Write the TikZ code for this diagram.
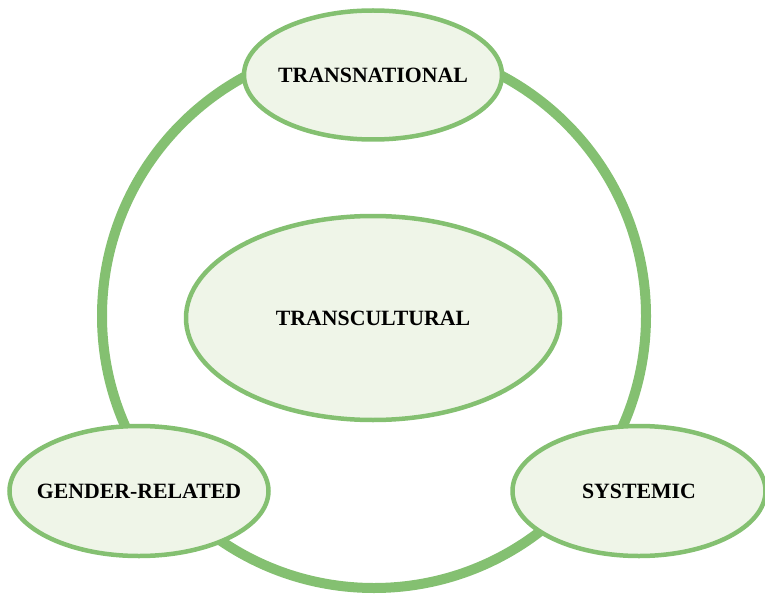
\documentclass[tikz,border=0pt]{standalone}
\usepackage{fontspec}
\setmainfont{Liberation Serif}
\usetikzlibrary{shapes.geometric}
\definecolor{ringgreen}{HTML}{84C071}
\definecolor{fillgreen}{HTML}{EFF5E8}
\newcommand{\zw}[1]{\makebox[0pt]{#1}}
\tikzset{
  bubble/.style={ellipse, draw=ringgreen, line width=4.5pt, fill=fillgreen, inner sep=0pt,
    font=\fontsize{21.8}{26}\selectfont\bfseries, text=black},
}
\begin{document}
\begin{tikzpicture}[x=1pt,y=-1pt]
\useasboundingbox (0,0) rectangle (765,596);
\node[circle, draw=ringgreen, line width=10pt, minimum size=544pt, inner sep=0pt] (ring) at (374,316) {};
\node[bubble, minimum width=374pt, minimum height=204pt] (tc) at (373,318) {\zw{TRANSCULTURAL}};
\node[bubble, minimum width=258pt, minimum height=129pt] (tn) at (373,75) {\zw{TRANSNATIONAL}};
\node[bubble, minimum width=259pt, minimum height=130pt] (gr) at (139,491) {\zw{GENDER-RELATED}};
\node[bubble, minimum width=253pt, minimum height=130pt] (sy) at (639,491) {\zw{SYSTEMIC}};
\end{tikzpicture}
\end{document}
